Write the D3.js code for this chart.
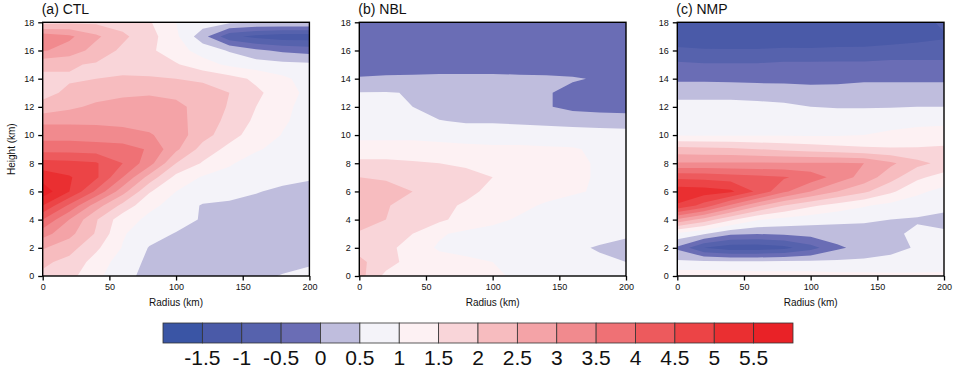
<!DOCTYPE html>
<html>
<head>
<meta charset="utf-8">
<script src="https://cdn.jsdelivr.net/npm/d3@7"></script>
<style>
  body { margin: 0; background: #fff; }
  svg { display: block; font-family: "Liberation Sans", Arial, Helvetica, sans-serif; }
  .axis .tick text { font-size: 9px; fill: #111; }
  .axis .tick line { stroke: #000; stroke-width: 1.3; }
</style>
</head>
<body>
<svg id="chart" width="958" height="378"></svg>
<script>
// grid the fields are sampled on
const radii = d3.range(0, 201, 20);     // km
const heights = d3.range(0, 19, 1);     // km

const levels = [-1.5, -1, -0.5, 0, 0.5, 1, 1.5, 2, 2.5, 3, 3.5, 4, 4.5, 5, 5.5];
const palette = ['#3a55a5', '#4a5aa8', '#5662ad', '#6a6db5', '#bfbddd', '#f4f3f9', '#fdf1f3', '#f9d5d9',
  '#f7bcbf', '#f4a3a7', '#f18a8e', '#ef7175', '#ed5a5d', '#ec4446', '#ea2f31', '#e92227'];
const panelTitles = ['(a) CTL', '(b) NBL', '(c) NMP'];
const yTicks = d3.range(0, 19, 2);
const xTicks = [0, 50, 100, 150, 200];

// rows go from height 0 km (first) to 18 km (last), columns follow radii
const ctlRows = [
  [1.9, 1.65, 1.15, 0.6, 0.4, 0.35, 0.3, 0.35, 0.42, 0.52, 0.6],
  [2.1, 1.85, 1.3, 0.75, 0.4, 0.3, 0.3, 0.3, 0.35, 0.4, 0.45],
  [2.55, 2.2, 1.6, 0.97, 0.47, 0.35, 0.3, 0.3, 0.3, 0.35, 0.4],
  [3.2, 2.65, 1.95, 1.05, 0.7, 0.47, 0.35, 0.3, 0.3, 0.3, 0.35],
  [4.0, 3.0, 2.05, 1.2, 0.9, 0.72, 0.45, 0.35, 0.3, 0.3, 0.3],
  [5.0, 3.9, 2.75, 1.85, 1.1, 0.85, 0.45, 0.4, 0.35, 0.3, 0.3],
  [5.8, 5.0, 3.9, 2.7, 1.55, 1.0, 0.85, 0.7, 0.53, 0.4, 0.35],
  [5.3, 5.05, 4.6, 3.5, 2.3, 1.35, 0.95, 0.85, 0.75, 0.65, 0.55],
  [4.7, 4.65, 4.55, 4.0, 3.2, 2.0, 1.45, 1.05, 0.8, 0.7, 0.6],
  [3.8, 3.8, 3.75, 3.7, 3.45, 2.6, 1.8, 1.35, 1.05, 0.85, 0.7],
  [3.3, 3.3, 3.25, 3.2, 3.05, 2.75, 2.2, 1.7, 1.25, 0.98, 0.8],
  [2.9, 2.9, 2.9, 2.85, 2.8, 2.65, 2.3, 1.85, 1.4, 1.05, 0.85],
  [2.15, 2.4, 2.6, 2.7, 2.7, 2.6, 2.35, 1.95, 1.5, 1.1, 0.85],
  [1.85, 2.1, 2.3, 2.4, 2.45, 2.4, 2.25, 2.0, 1.6, 1.25, 0.85],
  [1.9, 1.95, 2.0, 2.05, 2.05, 2.0, 1.9, 1.7, 1.4, 1.1, 0.8],
  [2.1, 2.05, 1.95, 1.85, 1.75, 1.55, 1.2, 0.9, 0.75, 0.65, 0.6],
  [3.05, 2.8, 2.3, 1.9, 1.6, 1.2, 0.8, 0.45, 0.1, -0.1, -0.2],
  [3.3, 3.1, 2.6, 2.1, 1.7, 1.1, 0.2, -0.85, -1.15, -1.3, -1.3],
  [1.8, 1.9, 1.9, 1.8, 1.55, 1.0, 0.75, 0.6, 0.55, 0.55, 0.55]
];

const nblRows = [
  [2.2, 1.35, 1.2, 1.15, 1.1, 1.05, 0.95, 0.85, 0.75, 0.7, 0.6],
  [2.1, 1.75, 1.25, 1.15, 1.1, 1.0, 0.95, 0.85, 0.75, 0.6, 0.5],
  [1.85, 1.7, 1.2, 0.95, 0.85, 0.8, 0.75, 0.7, 0.6, 0.45, 0.3],
  [1.95, 1.75, 1.5, 1.05, 0.9, 0.85, 0.8, 0.75, 0.75, 0.7, 0.6],
  [2.2, 2.0, 1.8, 1.6, 1.3, 1.1, 0.95, 0.85, 0.8, 0.75, 0.75],
  [2.25, 2.05, 1.75, 1.6, 1.45, 1.3, 1.1, 0.95, 0.85, 0.8, 0.75],
  [2.2, 2.15, 2.0, 1.8, 1.6, 1.4, 1.25, 1.15, 1.05, 0.95, 0.85],
  [2.0, 1.95, 1.8, 1.7, 1.6, 1.5, 1.3, 1.2, 1.1, 0.95, 0.9],
  [1.6, 1.6, 1.55, 1.5, 1.45, 1.3, 1.2, 1.15, 1.1, 0.95, 0.85],
  [1.25, 1.25, 1.25, 1.2, 1.15, 1.1, 1.1, 1.08, 1.05, 0.9, 0.8],
  [0.85, 0.85, 0.85, 0.8, 0.75, 0.75, 0.75, 0.7, 0.7, 0.7, 0.7],
  [0.75, 0.75, 0.7, 0.52, 0.45, 0.45, 0.42, 0.4, 0.35, 0.3, 0.25],
  [0.7, 0.7, 0.5, 0.3, 0.25, 0.2, 0.15, 0.05, -0.15, -0.2, -0.2],
  [0.52, 0.52, 0.48, 0.3, 0.2, 0.2, 0.15, 0.05, -0.15, -0.2, -0.25],
  [0.05, 0.1, 0.12, 0.15, 0.15, 0.15, 0.12, 0.1, 0.05, -0.05, -0.2],
  [-0.3, -0.3, -0.3, -0.3, -0.3, -0.3, -0.3, -0.3, -0.3, -0.3, -0.3],
  [-0.3, -0.3, -0.3, -0.3, -0.3, -0.3, -0.3, -0.3, -0.3, -0.3, -0.3],
  [-0.3, -0.3, -0.3, -0.3, -0.3, -0.3, -0.3, -0.3, -0.3, -0.3, -0.3],
  [-0.3, -0.3, -0.3, -0.3, -0.3, -0.3, -0.3, -0.3, -0.3, -0.3, -0.3]
];

const nmpRows = [
  [1.3, 1.3, 1.25, 1.2, 1.2, 1.2, 1.15, 1.15, 1.1, 1.1, 1.1],
  [0.6, 0.6, 0.6, 0.6, 0.6, 0.6, 0.6, 0.6, 0.65, 0.7, 0.75],
  [-0.1, -1.0, -1.3, -1.3, -1.15, -0.7, -0.1, 0.2, 0.35, 0.55, 0.6],
  [0.9, 0.55, 0.1, 0.02, 0.1, 0.2, 0.3, 0.35, 0.4, 0.6, 0.6],
  [2.9, 2.3, 1.6, 1.05, 0.85, 0.7, 0.6, 0.55, 0.5, 0.45, 0.3],
  [4.95, 4.3, 3.4, 2.6, 2.0, 1.6, 1.3, 1.05, 0.85, 0.75, 0.7],
  [5.3, 5.25, 5.1, 4.4, 3.6, 3.0, 2.5, 2.1, 1.6, 1.1, 0.85],
  [4.4, 4.35, 4.25, 4.15, 4.05, 3.8, 3.3, 2.8, 2.2, 1.6, 1.3],
  [3.05, 3.05, 3.05, 3.05, 3.05, 3.05, 3.05, 3.0, 2.6, 2.15, 1.85],
  [2.2, 2.15, 2.1, 2.0, 1.9, 1.8, 1.7, 1.6, 1.55, 1.55, 1.6],
  [0.95, 0.95, 0.95, 0.95, 0.95, 0.95, 0.95, 1.0, 1.1, 1.2, 1.2],
  [0.75, 0.75, 0.75, 0.75, 0.72, 0.7, 0.7, 0.7, 0.8, 0.85, 0.9],
  [0.65, 0.65, 0.65, 0.62, 0.58, 0.5, 0.48, 0.48, 0.48, 0.5, 0.5],
  [0.35, 0.35, 0.35, 0.33, 0.3, 0.2, 0.15, 0.15, 0.15, 0.15, 0.15],
  [-0.1, -0.1, -0.12, -0.15, -0.15, -0.15, -0.1, -0.05, -0.05, -0.05, -0.05],
  [-0.4, -0.45, -0.45, -0.45, -0.4, -0.4, -0.4, -0.4, -0.35, -0.35, -0.35],
  [-0.9, -0.95, -0.95, -0.95, -0.9, -0.9, -0.85, -0.85, -0.8, -0.8, -0.8],
  [-1.3, -1.35, -1.4, -1.4, -1.4, -1.45, -1.45, -1.4, -1.3, -1.15, -1.05],
  [-1.3, -1.35, -1.35, -1.35, -1.4, -1.4, -1.4, -1.4, -1.35, -1.2, -0.9]
];

const fields = [ctlRows, nblRows, nmpRows];

const svg = d3.select('#chart');
const panelLeft = [42.7, 359.3, 677.3];
const plotTop = 22.3;
const plotW = 266.7;
const plotH = 253.7;

const color = d3.scaleThreshold().domain(levels).range(palette);

const x = d3.scaleLinear().domain([0, 200]).range([0, plotW]);
const y = d3.scaleLinear().domain([0, 18]).range([plotH, 0]);

const dr = radii[1] - radii[0];
const dh = heights[1] - heights[0];
// d3.contours puts sample i at grid coordinate i + 0.5
const proj = d3.geoTransform({
  point(gx, gy) {
    this.stream.point(x(radii[0] + (gx - 0.5) * dr), y(heights[0] + (gy - 0.5) * dh));
  }
});
const path = d3.geoPath(proj);

fields.forEach((rows, k) => {
  const g = svg.append('g').attr('transform', `translate(${panelLeft[k]},${plotTop})`);

  g.append('clipPath').attr('id', 'clip' + k)
    .append('rect').attr('width', plotW).attr('height', plotH);

  const contours = d3.contours()
    .size([radii.length, heights.length])
    .thresholds([-100].concat(levels))(rows.flat());

  g.append('g')
    .attr('clip-path', `url(#clip${k})`)
    .selectAll('path')
    .data(contours)
    .join('path')
    .attr('d', path)
    .attr('fill', d => color(d.value));

  g.append('g')
    .attr('class', 'axis')
    .call(d3.axisLeft(y).tickValues(yTicks).tickSize(4.5).tickPadding(4))
    .call(s => s.select('.domain').remove());

  g.append('g')
    .attr('class', 'axis')
    .attr('transform', `translate(0,${plotH})`)
    .call(d3.axisBottom(x).tickValues(xTicks).tickSize(4.5).tickPadding(3))
    .call(s => s.select('.domain').remove());

  g.append('rect')
    .attr('width', plotW)
    .attr('height', plotH)
    .attr('fill', 'none')
    .attr('stroke', '#000')
    .attr('stroke-width', 1.4);

  g.append('text')
    .attr('x', -1)
    .attr('y', -8.5)
    .attr('font-size', 14)
    .attr('fill', '#111')
    .text(panelTitles[k]);

  g.append('text')
    .attr('x', plotW / 2)
    .attr('y', plotH + 30.5)
    .attr('text-anchor', 'middle')
    .attr('font-size', 10)
    .attr('fill', '#111')
    .text('Radius (km)');
});

svg.append('text')
  .attr('transform', `translate(14.5,${plotTop + plotH / 2}) rotate(-90)`)
  .attr('text-anchor', 'middle')
  .attr('font-size', 10)
  .attr('fill', '#111')
  .text('Height (km)');

// colour bar
const cbX = d3.scaleLinear().domain([0, palette.length]).range([163, 793]);
const cb = svg.append('g').attr('transform', 'translate(0,323)');
cb.selectAll('rect')
  .data(palette)
  .join('rect')
  .attr('x', (d, i) => cbX(i))
  .attr('width', (d, i) => cbX(i + 1) - cbX(i))
  .attr('height', 20)
  .attr('fill', d => d)
  .attr('stroke', '#333')
  .attr('stroke-width', 0.8);

cb.selectAll('text')
  .data(levels)
  .join('text')
  .attr('x', (d, i) => cbX(i + 1))
  .attr('y', 42)
  .attr('text-anchor', 'middle')
  .attr('font-size', 21)
  .attr('fill', '#111')
  .text(d => String(d));
</script>
</body>
</html>
